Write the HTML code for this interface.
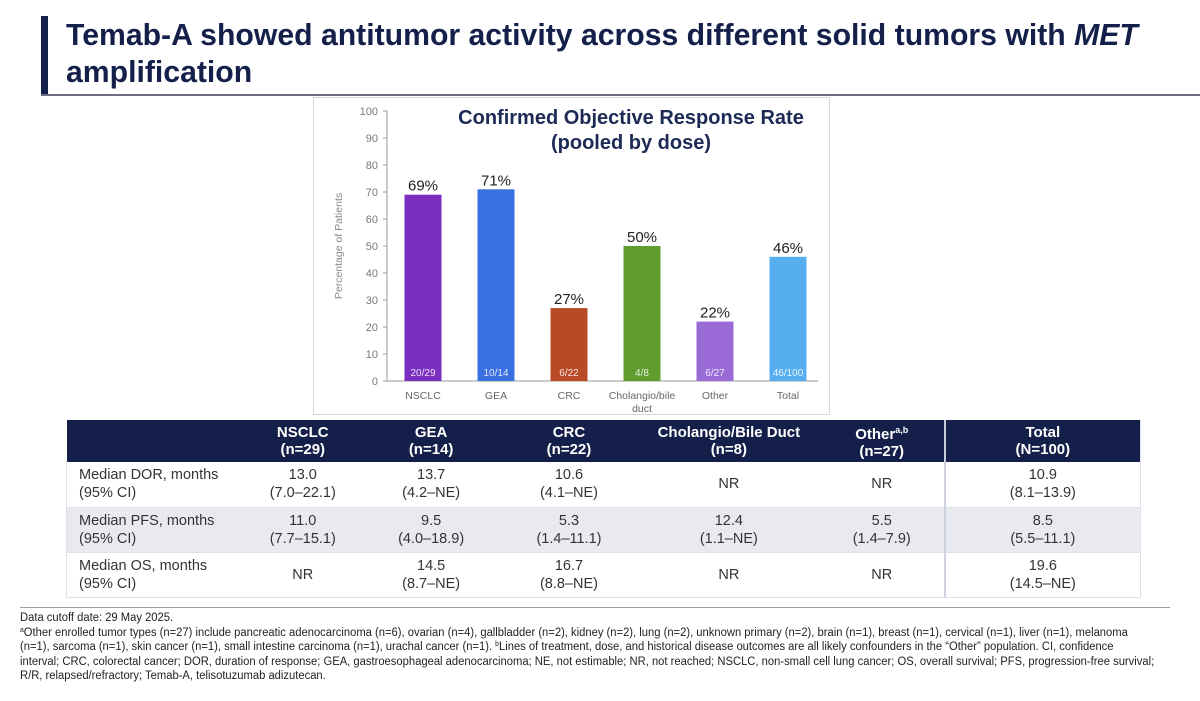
<!DOCTYPE html>
<html><head><meta charset="utf-8"><style>
*{margin:0;padding:0;box-sizing:border-box}
body{width:1200px;height:701px;background:#fff;font-family:"Liberation Sans",Arial,sans-serif;position:relative;overflow:hidden;color:#222}
.abs{position:absolute}
#title{left:66px;top:17px;font-size:30.2px;font-weight:bold;color:#14204a;line-height:37px;width:1130px}
#bar{left:41px;top:16px;width:7px;height:79px;background:#14204a}
#rule{left:41px;top:94px;width:1159px;height:2px;background:#6b7080}
#panel{left:313px;top:97px;width:517px;height:318px;border:1px solid #d8d8d8;background:#fff}
table{position:absolute;left:66px;top:420px;width:1075px;border-collapse:collapse;font-size:14.5px}
th{background:#14204a;color:#fff;font-weight:bold;height:42px;line-height:17px;text-align:center;font-size:15px}
td{height:45px;line-height:18px;text-align:center;border-bottom:1px solid #dde0e8;color:#333}
td:first-child{text-align:left;padding-left:12px}
tr.alt td{background:#e9eaf0}
.tot{border-left:2px solid #cfd3df;border-right:1px solid #dde0e8}
th.tot{border-left:2px solid #c9cddb}
td:first-child{border-left:1px solid #dde0e8}
#frule{left:20px;top:607px;width:1150px;height:1px;background:#9a9eaa}
#notes{left:20px;top:611px;width:1300px;font-size:11.5px;line-height:14.5px;color:#222;white-space:nowrap;transform:scaleX(0.975);transform-origin:0 0}
#notes sup{font-size:7px;line-height:0;vertical-align:4px}
</style></head><body>
<div class="abs" id="bar"></div>
<div class="abs" id="title">Temab-A showed antitumor activity across different solid tumors with <i>MET</i> amplification</div>
<div class="abs" id="rule"></div>
<div class="abs" id="panel"></div>
<svg class="abs" style="left:0;top:0" width="1200" height="701" id="chart"></svg>
<table>
<colgroup><col style="width:177px"><col style="width:119px"><col style="width:138px"><col style="width:138px"><col style="width:182px"><col style="width:125px"><col style="width:196px"></colgroup>
<tr><th></th><th>NSCLC<br>(n=29)</th><th>GEA<br>(n=14)</th><th>CRC<br>(n=22)</th><th>Cholangio/Bile Duct<br>(n=8)</th><th>Other<sup style="font-size:9px">a,b</sup><br>(n=27)</th><th class="tot">Total<br>(N=100)</th></tr>
<tr><td>Median DOR, months<br>(95% CI)</td><td>13.0<br>(7.0–22.1)</td><td>13.7<br>(4.2–NE)</td><td>10.6<br>(4.1–NE)</td><td>NR</td><td>NR</td><td class="tot">10.9<br>(8.1–13.9)</td></tr>
<tr class="alt"><td>Median PFS, months<br>(95% CI)</td><td>11.0<br>(7.7–15.1)</td><td>9.5<br>(4.0–18.9)</td><td>5.3<br>(1.4–11.1)</td><td>12.4<br>(1.1–NE)</td><td>5.5<br>(1.4–7.9)</td><td class="tot">8.5<br>(5.5–11.1)</td></tr>
<tr><td>Median OS, months<br>(95% CI)</td><td>NR</td><td>14.5<br>(8.7–NE)</td><td>16.7<br>(8.8–NE)</td><td>NR</td><td>NR</td><td class="tot">19.6<br>(14.5–NE)</td></tr>
</table>
<div class="abs" id="frule"></div>
<div class="abs" id="notes">Data cutoff date: 29 May 2025.<br><sup>a</sup>Other enrolled tumor types (n=27) include pancreatic adenocarcinoma (n=6), ovarian (n=4), gallbladder (n=2), kidney (n=2), lung (n=2), unknown primary (n=2), brain (n=1), breast (n=1), cervical (n=1), liver (n=1), melanoma<br>(n=1), sarcoma (n=1), skin cancer (n=1), small intestine carcinoma (n=1), urachal cancer (n=1). <sup>b</sup>Lines of treatment, dose, and historical disease outcomes are all likely confounders in the “Other” population. CI, confidence<br>interval; CRC, colorectal cancer; DOR, duration of response; GEA, gastroesophageal adenocarcinoma; NE, not estimable; NR, not reached; NSCLC, non-small cell lung cancer; OS, overall survival; PFS, progression-free survival;<br>R/R, relapsed/refractory; Temab-A, telisotuzumab adizutecan.</div>
<script>
const categories=["NSCLC","GEA","CRC","Cholangio/bile|duct","Other","Total"];
const values=[69,71,27,50,22,46];
const counts=["20/29","10/14","6/22","4/8","6/27","46/100"];
const colors=["#7b2fc0","#3a6fe0","#b84a27","#5f9e2e","#9a6ad6","#56aef0"];
const yTicks=[0,10,20,30,40,50,60,70,80,90,100];
const NS="http://www.w3.org/2000/svg";
const svg=document.getElementById('chart');
const y0=381,y1=111,xAxis=387,x0=423,step=73,bw=37;
const y=v=>y0+(y1-y0)*v/100;
const x=i=>x0+i*step;
function mk(t,a,txt){const e=document.createElementNS(NS,t);for(const k in a)e.setAttribute(k,a[k]);if(txt!==undefined)e.textContent=txt;svg.appendChild(e);return e;}
let ax=mk('line',{x1:xAxis,y1:y(100),x2:xAxis,y2:y0,stroke:'#999'});

let bx=mk('line',{x1:xAxis,y1:y0,x2:x(5)+30,y2:y0,stroke:'#999'});

yTicks.forEach(t=>{
 let l=mk('line',{x1:xAxis-4,y1:y(t),x2:xAxis,y2:y(t),stroke:'#999'});
 
 let tx=mk('text',{x:xAxis-9,y:y(t)+4,'text-anchor':'end','font-size':11,fill:'#777'},t);
 
});
let yt=mk('text',{transform:'translate(342,246) rotate(-90)','text-anchor':'middle','font-size':10.5,fill:'#888'},'Percentage of Patients');

let t1=mk('text',{x:631,y:124,'text-anchor':'middle','font-size':20,'font-weight':'bold',fill:'#1c2a55'},'Confirmed Objective Response Rate');

let t2=mk('text',{x:631,y:149,'text-anchor':'middle','font-size':20,'font-weight':'bold',fill:'#1c2a55'},'(pooled by dose)');

values.forEach((v,i)=>{
 let r=mk('rect',{x:x(i)-bw/2,y:y(v),width:bw,height:y0-y(v),fill:colors[i]});
 
 
 let p=mk('text',{x:x(i),y:y(v)-4,'text-anchor':'middle','font-size':15,fill:'#222'},v+'%');
 
 let c=mk('text',{x:x(i),y:y0-5,'text-anchor':'middle','font-size':10,fill:'#fff','fill-opacity':0.85},counts[i]);
 
 categories[i].split('|').forEach((s,j)=>{
  let cl=mk('text',{x:x(i),y:y0+18+j*13,'text-anchor':'middle','font-size':10.5,fill:'#666'},s);
  
 });
});
</script>
</body></html>
